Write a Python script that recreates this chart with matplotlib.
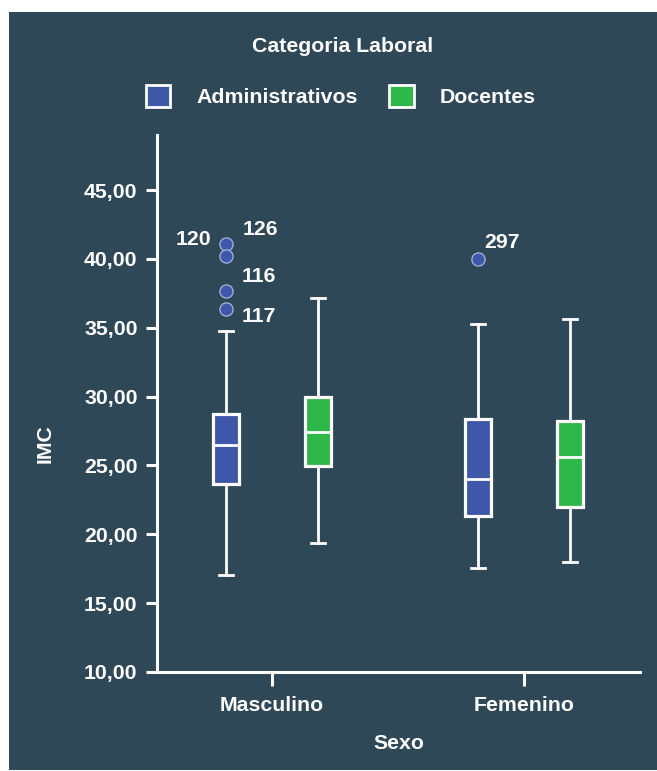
import matplotlib
matplotlib.use("Agg")
import matplotlib.pyplot as plt
from matplotlib.patches import Patch, Rectangle

plt.rcParams['font.family'] = ['Liberation Sans', 'DejaVu Sans']
plt.rcParams['font.weight'] = 'bold'

# ---- data -------------------------------------------------------------
sexo = ['Masculino', 'Femenino']
categorias = ['Administrativos', 'Docentes']

# box statistics per (sexo, categoria) in order:
# Masc-Admin, Masc-Doc, Fem-Admin, Fem-Doc
whislo = [17.04, 19.36, 17.55, 18.00]
q1 = [23.65, 24.97, 21.30, 21.95]
med = [26.50, 27.45, 24.00, 25.65]
q3 = [28.75, 30.00, 28.40, 28.20]
whishi = [34.80, 37.14, 35.25, 35.62]
fliers = [[41.10, 40.20, 37.70, 36.35], [], [40.00], []]
flier_ids = [[120, 126, 116, 117], [], [297], []]

# ---- style ------------------------------------------------------------
BG = '#2F4858'
COLORS = ['#3F57A8', '#2EB84A']
WHITE = '#FFFFFF'
FS = 15.3

fig = plt.figure(figsize=(6.57, 7.71), dpi=100, facecolor='white')
fig.patches.append(Rectangle((9 / 657, 1 / 771), 1 - 9 / 657, 1 - 13 / 771,
                             transform=fig.transFigure, facecolor=BG,
                             edgecolor='none', zorder=-10))

ax = fig.add_axes([157 / 657, 1 - 672 / 771, (640 - 157) / 657, (672 - 135) / 771])
ax.set_facecolor(BG)

offset = 0.183
width = 0.103
stats, positions, colors = [], [], []
k = 0
for i, s in enumerate(sexo):
    for j, c in enumerate(categorias):
        stats.append(dict(med=med[k], q1=q1[k], q3=q3[k], whislo=whislo[k],
                          whishi=whishi[k], fliers=fliers[k], label=f'{s} {c}'))
        positions.append(i + (offset if j else -offset))
        colors.append(COLORS[j])
        k += 1

bp = ax.bxp(stats, positions=positions, widths=width, patch_artist=True,
            capwidths=0.056, manage_ticks=False,
            boxprops=dict(edgecolor=WHITE, linewidth=2.3),
            medianprops=dict(color=WHITE, linewidth=2.0),
            whiskerprops=dict(color=WHITE, linewidth=2.0),
            capprops=dict(color=WHITE, linewidth=2.0),
            flierprops=dict(marker='o', markersize=9.5, markerfacecolor=COLORS[0],
                            markeredgecolor='#A9B5DE', markeredgewidth=0.9))
for box, col in zip(bp['boxes'], colors):
    box.set_facecolor(col)
    box.set_zorder(3)
for ln in bp['medians']:
    ln.set_zorder(4)
for fl, col in zip(bp['fliers'], colors):
    fl.set_markerfacecolor(col)

# outlier case numbers
label_offsets = {120: (-23, 3), 126: (25, 19.5), 116: (24, 10),
                 117: (24, -5.5), 297: (17.5, 11.5)}
for k, (vals, ids) in enumerate(zip(fliers, flier_ids)):
    for v, cid in zip(vals, ids):
        ax.annotate(str(cid), xy=(positions[k], v), xytext=label_offsets[cid],
                    textcoords='offset points', ha='center', va='center',
                    color=WHITE, fontsize=FS, fontweight='bold')

# axes
ax.set_xlim(-0.456, 1.46)
ax.set_ylim(10, 49)
yt = [10, 15, 20, 25, 30, 35, 40, 45]
ax.set_yticks(yt)
ax.set_yticklabels([f'{v:.2f}'.replace('.', ',') for v in yt])
ax.set_xticks(range(len(sexo)))
ax.set_xticklabels(sexo)
for side in ('top', 'right'):
    ax.spines[side].set_visible(False)
for side in ('left', 'bottom'):
    ax.spines[side].set_color(WHITE)
    ax.spines[side].set_linewidth(2.2)
ax.tick_params(axis='y', colors=WHITE, length=8, width=2.2, pad=6, labelsize=FS)
ax.tick_params(axis='x', colors=WHITE, length=10, width=2.2, pad=7, labelsize=FS)
for t in ax.get_xticklabels() + ax.get_yticklabels():
    t.set_fontweight('bold')

ax.set_ylabel('IMC', color=WHITE, fontsize=FS, fontweight='bold', va='center')
ax.yaxis.set_label_coords(-0.232, 0.426)
ax.set_xlabel('Sexo', color=WHITE, fontsize=FS, fontweight='bold', va='center')
ax.xaxis.set_label_coords(0.5, -0.134)

# legend
fig.text(343 / 657, 1 - 47 / 771, 'Categoria Laboral', ha='center', va='center',
         color=WHITE, fontsize=FS, fontweight='bold')
handles = [Patch(facecolor=c, edgecolor=WHITE, linewidth=2.0, label=l)
           for c, l in zip(COLORS, categorias)]
leg = fig.legend(handles=handles, loc='center', bbox_to_anchor=(341 / 657, 1 - 96 / 771),
                 ncol=2, frameon=False, handlelength=1.15, handleheight=1.25,
                 handletextpad=1.25, columnspacing=1.45,
                 prop=dict(weight='bold', size=FS))
for t in leg.get_texts():
    t.set_color(WHITE)

fig.savefig('out.png', dpi=100, facecolor='white')
